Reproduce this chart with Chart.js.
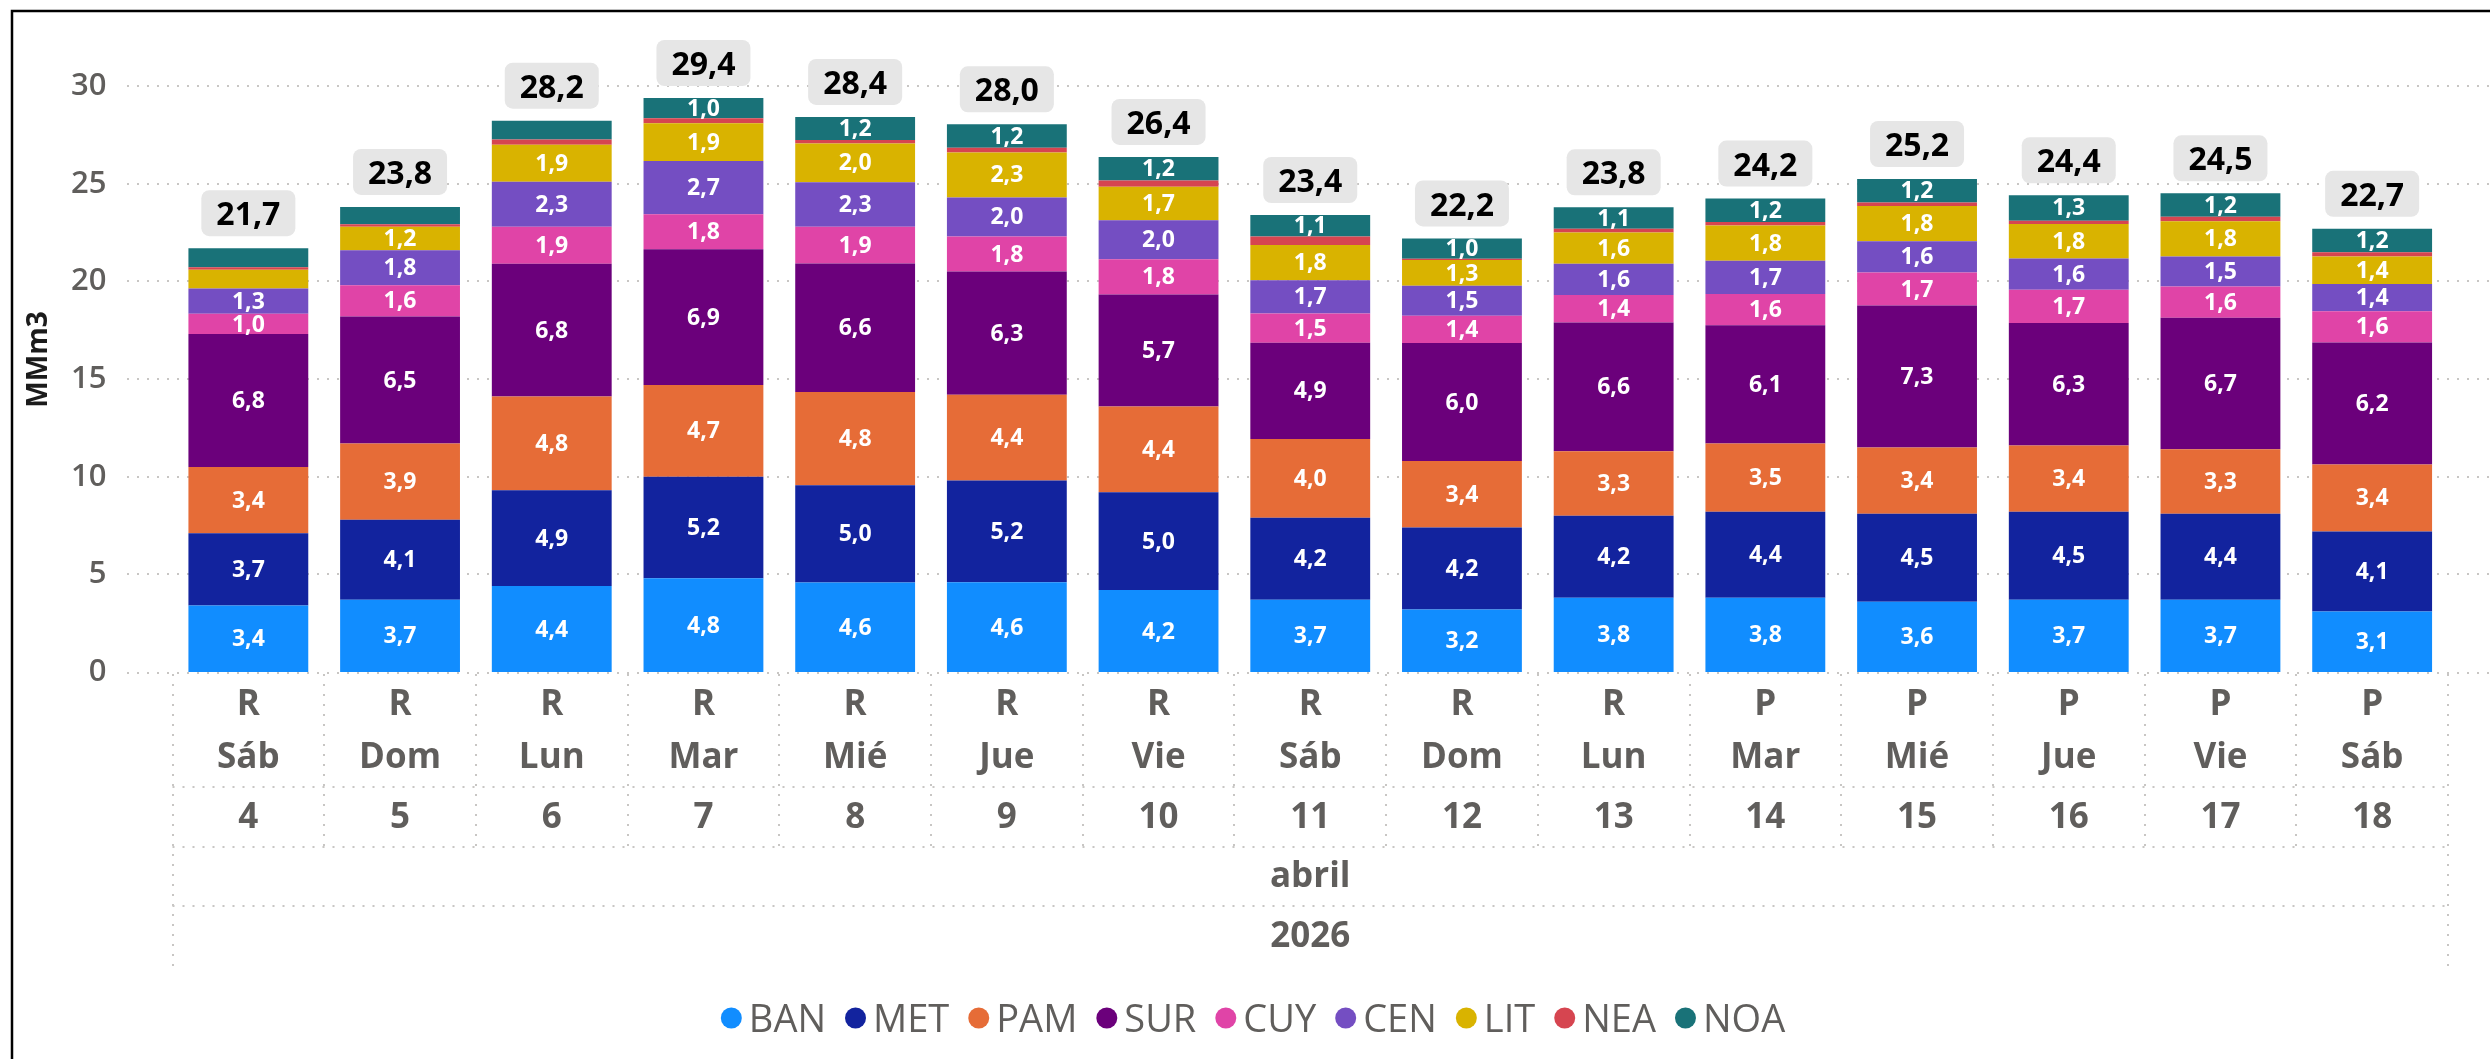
<!DOCTYPE html>
<html lang="es">
<head>
<meta charset="utf-8">
<title>MMm3 por día</title>
<script src="https://cdn.jsdelivr.net/npm/chart.js@4.4.1/dist/chart.umd.min.js"></script>
<style>
    html, body { margin: 0; padding: 0; background: #fff; }
    #wrap { position: relative; width: 2490px; height: 1059px; }
</style>
</head>
<body>
<div id="wrap"><canvas id="chart" width="2490" height="1059"></canvas></div>
<script>
// ---- data ----
const days = ["4", "5", "6", "7", "8", "9", "10", "11", "12", "13", "14", "15", "16", "17", "18"];
const dayNames = ["Sáb", "Dom", "Lun", "Mar", "Mié", "Jue", "Vie", "Sáb", "Dom", "Lun", "Mar", "Mié", "Jue", "Vie", "Sáb"];
const status = ["R", "R", "R", "R", "R", "R", "R", "R", "R", "R", "P", "P", "P", "P", "P"];
const month = "abril";
const year = "2026";
const yTicks = [0, 5, 10, 15, 20, 25, 30];

const BAN = [3.4, 3.7, 4.4, 4.8, 4.58, 4.6, 4.2, 3.7, 3.2, 3.8, 3.8, 3.6, 3.7, 3.7, 3.1];
const MET = [3.7, 4.1, 4.9, 5.2, 4.98, 5.2, 5.0, 4.2, 4.2, 4.2, 4.4, 4.5, 4.5, 4.4, 4.1];
const PAM = [3.4, 3.9, 4.8, 4.7, 4.78, 4.4, 4.4, 4.03, 3.4, 3.3, 3.5, 3.4, 3.4, 3.3, 3.43];
const SUR = [6.8, 6.5, 6.8, 6.94, 6.58, 6.3, 5.73, 4.93, 6.04, 6.6, 6.06, 7.26, 6.27, 6.74, 6.24];
const CUY = [1.04, 1.6, 1.9, 1.8, 1.88, 1.8, 1.8, 1.5, 1.4, 1.4, 1.6, 1.7, 1.7, 1.6, 1.6];
const CEN = [1.3, 1.8, 2.3, 2.72, 2.28, 2.0, 2.0, 1.7, 1.53, 1.6, 1.7, 1.6, 1.6, 1.54, 1.4];
const LIT = [0.96, 1.2, 1.9, 1.93, 1.98, 2.3, 1.72, 1.8, 1.32, 1.6, 1.8, 1.8, 1.77, 1.8, 1.4];
const NEA = [0.12, 0.13, 0.26, 0.26, 0.18, 0.24, 0.32, 0.44, 0.07, 0.19, 0.18, 0.18, 0.17, 0.23, 0.22];
const NOA = [0.98, 0.88, 0.97, 1.04, 1.18, 1.2, 1.2, 1.1, 1.04, 1.1, 1.2, 1.2, 1.3, 1.2, 1.2];

const series = [
    ["BAN", BAN, "#118DFF"],
    ["MET", MET, "#12239E"],
    ["PAM", PAM, "#E66C37"],
    ["SUR", SUR, "#6B007B"],
    ["CUY", CUY, "#E044A7"],
    ["CEN", CEN, "#744EC2"],
    ["LIT", LIT, "#D9B300"],
    ["NEA", NEA, "#D64550"],
    ["NOA", NOA, "#197278"]
];

// ---- helpers ----
const FONT = "'Segoe UI', 'Open Sans', 'Noto Sans', sans-serif";
const GREY = "#605E5C";
const LABEL_MIN = 1.0; // segments below this get no label

function fmt(v) {
    return v.toFixed(1).replace(".", ",");
}

function dotted(ctx, x1, y1, x2, y2) {
    ctx.beginPath();
    ctx.moveTo(x1, y1);
    ctx.lineTo(x2, y2);
    ctx.stroke();
}

function setDots(ctx) {
    ctx.strokeStyle = "#C8C6C4";
    ctx.lineWidth = 2;
    ctx.setLineDash([2, 8]);
}

// horizontal gridlines, behind the bars
const gridPlugin = {
    id: "grid",
    beforeDatasetsDraw(chart) {
        const { ctx, scales: { y } } = chart;
        ctx.save();
        setDots(ctx);
        for (const v of yTicks) {
            const py = Math.round(y.getPixelForValue(v)) + (v === 0 ? 1 : 0);
            dotted(ctx, 127, py, chart.width, py);
        }
        ctx.restore();
    }
};

// values inside the segments and total boxes on top
const labelsPlugin = {
    id: "segLabels",
    afterDatasetsDraw(chart) {
        const { ctx, scales: { y } } = chart;
        const sets = chart.data.datasets;
        ctx.save();
        ctx.textAlign = "center";
        ctx.textBaseline = "middle";
        ctx.font = `bold 23px ${FONT}`;
        ctx.fillStyle = "#fff";
        sets.forEach((ds, i) => {
            const meta = chart.getDatasetMeta(i);
            meta.data.forEach((bar, j) => {
                const v = ds.data[j];
                if (v < LABEL_MIN) return;
                ctx.fillText(fmt(v), bar.x, (bar.y + bar.base) / 2 + 1);
            });
        });

        ctx.font = `bold 32px ${FONT}`;
        const first = chart.getDatasetMeta(0).data;
        days.forEach((d, j) => {
            const total = sets.reduce((s, ds) => s + ds.data[j], 0);
            const top = y.getPixelForValue(total);
            const txt = fmt(total);
            const w = ctx.measureText(txt).width + 30;
            const h = 46;
            const bx = first[j].x - w / 2;
            const by = top - 12 - h;
            ctx.fillStyle = "#E6E6E6";
            ctx.beginPath();
            ctx.roundRect(bx, by, w, h, 8);
            ctx.fill();
            ctx.fillStyle = "#000";
            ctx.fillText(txt, first[j].x, by + h / 2 + 3);
        });
        ctx.restore();
    }
};

// hierarchical category axis + legend + frame
const axisPlugin = {
    id: "hierAxis",
    afterDraw(chart) {
        const { ctx, chartArea: a, scales: { x } } = chart;
        const step = (a.right - a.left) / days.length;
        const rows = [787, 847, 906];
        ctx.save();

        setDots(ctx);
        for (let k = 0; k <= days.length; k++) {
            const px = Math.round(a.left + k * step);
            const outer = k === 0 || k === days.length;
            dotted(ctx, px, a.bottom + 2, px, outer ? 967 : rows[1]);
        }
        for (const ry of rows) dotted(ctx, a.left, ry, a.right, ry);
        ctx.setLineDash([]);

        ctx.fillStyle = GREY;
        ctx.textAlign = "center";
        ctx.textBaseline = "middle";
        ctx.font = `bold 35px ${FONT}`;
        days.forEach((d, j) => {
            const px = x.getPixelForValue(j);
            ctx.fillText(status[j], px, 705);
            ctx.fillText(dayNames[j], px, 758);
            ctx.fillText(d, px, 818);
        });
        const mid = (a.left + a.right) / 2;
        ctx.fillText(month, mid, 877);
        ctx.fillText(year, mid, 937);

        // legend
        ctx.font = `38px ${FONT}`;
        ctx.textAlign = "left";
        const items = chart.data.datasets.map(ds => ({
            label: ds.label, color: ds.backgroundColor, w: ctx.measureText(ds.label).width
        }));
        const total = items.reduce((s, it) => s + 21 + 7 + it.w, 0) + 19 * (items.length - 1);
        let lx = 1253 - total / 2;
        for (const it of items) {
            ctx.fillStyle = it.color;
            ctx.beginPath();
            ctx.arc(lx + 10.5, 1018, 10.5, 0, Math.PI * 2);
            ctx.fill();
            ctx.fillStyle = GREY;
            ctx.fillText(it.label, lx + 28, 1021);
            lx += 21 + 7 + it.w + 19;
        }

        // visual frame (top + left)
        ctx.strokeStyle = "#000";
        ctx.lineWidth = 2.5;
        ctx.beginPath();
        ctx.moveTo(12, chart.height);
        ctx.lineTo(12, 11);
        ctx.lineTo(chart.width, 11);
        ctx.stroke();
        ctx.restore();
    }
};

const datasets = series.map(([label, data, color]) => ({
    label,
    data,
    backgroundColor: color,
    borderWidth: 0,
    categoryPercentage: 0.79,
    barPercentage: 1
}));

new Chart(document.getElementById("chart"), {
    type: "bar",
    data: { labels: days, datasets },
    options: {
        responsive: false,
        animation: false,
        layout: { padding: { top: 47, right: 42, bottom: 387, left: 12 } },
        plugins: {
            legend: { display: false },
            tooltip: { enabled: false }
        },
        scales: {
            x: { stacked: true, display: false },
            y: {
                stacked: true,
                min: 0,
                max: 32,
                afterFit(s) {
                    s.width = 160.5;
                    // the big tick padding must not push the plot area down
                    s.paddingTop = 0;
                    s.paddingBottom = 0;
                },
                afterBuildTicks(s) { s.ticks = yTicks.map(v => ({ value: v })); },
                grid: { display: false, drawTicks: false },
                border: { display: false },
                ticks: {
                    padding: 66,
                    color: GREY,
                    font: { family: FONT, size: 31, weight: "600" }
                },
                title: {
                    display: true,
                    text: "MMm3",
                    color: "#1b1b1b",
                    font: { family: FONT, size: 28, weight: "bold" },
                    padding: { top: 10, bottom: 0 }
                }
            }
        }
    },
    plugins: [gridPlugin, labelsPlugin, axisPlugin]
});
</script>
</body>
</html>
